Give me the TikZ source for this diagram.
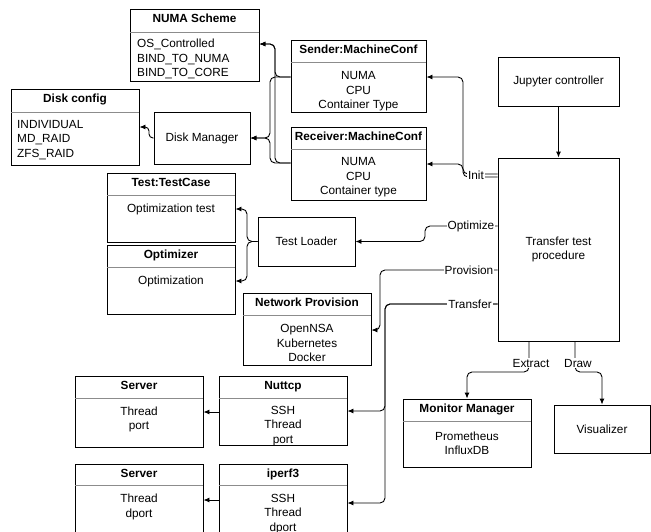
\documentclass[tikz,border=0pt]{standalone}
\usepackage{fontspec}
\setmainfont{Liberation Sans}
\usetikzlibrary{arrows.meta}
\newcommand\ClassBox[7]{%
  \node[boxnode, minimum width={(#4-#2)*1pt}, minimum height={(#5-#3)*1pt}] (#1) at ({(#2+#4)/2},{(#3+#5)/2}) {};
  \draw[hdrline] (#2,#6) -- (#4,#6);
  \node[titletext] (#1-title) at ({(#2+#4)/2},{#3+13}) {#7};
}
\newcommand\PlainBox[6]{%
  \node[boxnode, align=center, minimum width={(#4-#2)*1pt}, minimum height={(#5-#3)*1pt}] (#1) at ({(#2+#4)/2},{(#3+#5)/2}) {#6};
}
\tikzset{
  boxnode/.style={draw=black, line width=0.9pt, inner sep=0pt, fill=white},
  hdrline/.style={draw=black!45, line width=0.8pt},
  titletext/.style={anchor=base, inner sep=0pt, font=\fontsize{11.8}{14.4}\selectfont\bfseries},
  bodytext/.style={inner sep=0pt, align=center},
  bodyleft/.style={inner sep=0pt, align=left, anchor=west},
  conn/.style={draw=black, line width=0.9pt, rounded corners=5pt, -{Latex[length=6pt,width=5pt]}},
  lbl/.style={fill=white, inner sep=1pt},
}
\begin{document}
\begin{tikzpicture}[x=1pt, y=-1pt, font=\fontsize{11.8}{14.4}\selectfont]
\clip (0,0) rectangle (651,531);
\fill[white] (0,0) rectangle (651,531);

% class boxes
\ClassBox{numa}{130}{9}{259}{81}{32}{NUMA Scheme}
\node[bodyleft] (numa-body) at (137,59) {OS\_Controlled\\BIND\_TO\_NUMA\\BIND\_TO\_CORE};

\ClassBox{diskcfg}{11}{89}{139}{165}{112}{Disk config}
\node[bodyleft] (diskcfg-body) at (17,140) {INDIVIDUAL\\MD\_RAID\\ZFS\_RAID};

\ClassBox{sender}{291}{40}{426}{112}{62}{Sender:MachineConf}
\node[bodytext] (sender-body) at (358.5,91.5) {NUMA\\CPU\\Container Type};

\ClassBox{receiver}{291}{127}{426}{200}{149}{Receiver:MachineConf}
\node[bodytext] (receiver-body) at (358.5,177.5) {NUMA\\CPU\\Container type};

\ClassBox{tc}{107}{173}{235}{242}{195}{Test:TestCase}
\node[bodytext] (tc-body) at (171,209) {Optimization test};

\ClassBox{opt}{107}{245}{235}{314}{267}{Optimizer}
\node[bodytext] (opt-body) at (171,281) {Optimization};

\ClassBox{np}{243}{293}{371}{365}{315}{Network Provision}
\node[bodytext] (np-body) at (307,343) {OpenNSA\\Kubernetes\\Docker};

\ClassBox{srv1}{75}{376}{203}{447}{398}{Server}
\node[bodytext] (srv1-body) at (139,419.5) {Thread\\port};

\ClassBox{nuttcp}{219}{376}{347}{445}{398}{Nuttcp}
\node[bodytext] (nuttcp-body) at (283,426) {SSH\\Thread\\port};

\ClassBox{srv2}{75}{464}{203}{536}{485}{Server}
\node[bodytext] (srv2-body) at (139,507) {Thread\\dport};

\ClassBox{iperf}{219}{464}{347}{536}{485}{iperf3}
\node[bodytext] (iperf-body) at (283,514) {SSH\\Thread\\dport};

\ClassBox{mm}{403}{399}{531}{467}{421}{Monitor Manager}
\node[bodytext] (mm-body) at (467,443) {Prometheus\\InfluxDB};

% plain boxes
\PlainBox{dm}{154}{112}{250}{164}{Disk Manager}
\PlainBox{tl}{258}{217}{355}{266}{Test Loader}
\PlainBox{jup}{498}{57}{619}{106}{Jupyter controller}
\PlainBox{tr}{498}{158}{619}{341}{Transfer test\\procedure}
\PlainBox{vis}{554}{405}{650}{453}{Visualizer}

% bend points
\coordinate (sA) at (275,77);
\coordinate (sB) at (275,44);
\coordinate (rA) at (275,163);
\coordinate (dA) at (270,77);
\coordinate (dB) at (270,138);
\coordinate (dC) at (270,163);
\coordinate (kA) at (149,138);
\coordinate (kB) at (149,127);
\coordinate (iA) at (463,174);
\coordinate (iB) at (463,77);
\coordinate (iC) at (463,177);
\coordinate (iD) at (463,164);
\coordinate (oA) at (425,226);
\coordinate (oB) at (425,241.5);
\coordinate (tA) at (247,241.5);
\coordinate (tB) at (247,209);
\coordinate (tC) at (247,281);
\coordinate (pA) at (380,270);
\coordinate (pB) at (380,330);
\coordinate (xA) at (385,304);
\coordinate (xB) at (385,411);
\coordinate (xC) at (385,503);
\coordinate (nA) at (210,412);
\coordinate (mA) at (210,500);
\coordinate (eA) at (529,372);
\coordinate (eB) at (467,372);
\coordinate (wA) at (575,372);
\coordinate (wB) at (602,372);

% connectors
\draw[conn] (jup.south) -- (tr.north);
\draw[conn] (tr.west |- iA) -- (iA) -- (iB) -- (sender.east |- iB);
\draw[conn] (tr.west |- iC) -- (iC) -- (iD) -- (receiver.east |- iD);
\draw[conn] (sender.west |- sA) -- (sA) -- (sB) -- (numa.east |- sB);
\draw[conn] (receiver.west |- rA) -- (rA) -- (sB) -- (numa.east |- sB);
\draw[conn] (sender.west |- dA) -- (dA) -- (dB) -- (dm.east |- dB);
\draw[conn] (receiver.west |- dC) -- (dC) -- (dB) -- (dm.east |- dB);
\draw[conn, rounded corners=4pt] (dm.west |- kA) -- (kA) -- (kB) -- (diskcfg.east |- kB);
\draw[conn] (tr.west |- oA) -- (oA) -- (oB) -- (tl.east |- oB);
\draw[conn] (tl.west |- tA) -- (tA) -- (tB) -- (tc.east |- tB);
\draw[conn] (tl.west |- tA) -- (tA) -- (tC) -- (opt.east |- tC);
\draw[conn] (tr.west |- pA) -- (pA) -- (pB) -- (np.east |- pB);
\draw[conn] (tr.west |- xA) -- (xA) -- (xB) -- (nuttcp.east |- xB);
\draw[conn] (tr.west |- xA) -- (xA) -- (xC) -- (iperf.east |- xC);
\draw[conn] (nuttcp.west |- nA) -- (srv1.east |- nA);
\draw[conn] (iperf.west |- mA) -- (srv2.east |- mA);
\draw[conn] (tr.south -| eA) -- (eA) -- (eB) -- (mm.north -| eB);
\draw[conn] (tr.south -| wA) -- (wA) -- (wB) -- (vis.north -| wB);

% connector labels
\node[lbl] (l-init) at (476,175) {Init};
\node[lbl] (l-opt) at (471,226) {Optimize};
\node[lbl] (l-prov) at (469,270) {Provision};
\node[lbl] (l-trans) at (470,304) {Transfer};
\node[lbl] (l-extract) at (531,363) {Extract};
\node[lbl] (l-draw) at (578,363) {Draw};
\end{tikzpicture}
\end{document}
